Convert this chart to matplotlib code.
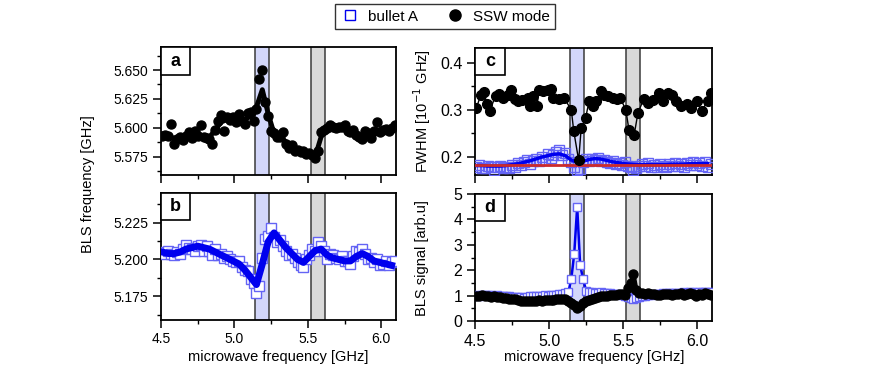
import numpy as np
import matplotlib
matplotlib.use('Agg')
import matplotlib.pyplot as plt
from matplotlib.lines import Line2D
from matplotlib.patches import Rectangle
from matplotlib.ticker import MultipleLocator, FormatStrFormatter

plt.rcParams['font.family'] = ['Liberation Sans', 'DejaVu Sans']

# --- data -------------------------------------------------------------
# panel a: SSW mode BLS frequency (GHz), 4.51 .. 6.09 step 0.02
a_ssw = [5.593, 5.594, 5.593, 5.603, 5.586, 5.590, 5.592, 5.589, 5.593, 5.596,
         5.591, 5.597, 5.593, 5.602, 5.592, 5.591, 5.590, 5.586, 5.598, 5.606,
         5.611, 5.597, 5.609, 5.607, 5.609, 5.605, 5.612, 5.606, 5.603, 5.613,
         5.614, 5.606, 5.616, 5.642, 5.650, 5.622, 5.610, 5.597, 5.595, 5.592,
         5.592, 5.596, 5.586, 5.582, 5.585, 5.580, 5.581, 5.579, 5.580, 5.577,
         5.578, 5.576, 5.574, 5.580, 5.596, 5.598, 5.600, 5.602, 5.601, 5.600,
         5.601, 5.601, 5.602, 5.597, 5.596, 5.598, 5.594, 5.592, 5.590, 5.597,
         5.595, 5.591, 5.597, 5.605, 5.596, 5.598, 5.599, 5.597, 5.600, 5.602]
# smoothed line, 4.51 .. 6.07 step 0.04
a_fit = [5.593, 5.592, 5.591, 5.591, 5.592, 5.593, 5.594, 5.593, 5.592, 5.598,
         5.605, 5.607, 5.608, 5.608, 5.607, 5.610, 5.618, 5.633, 5.612, 5.595,
         5.592, 5.588, 5.583, 5.580, 5.579, 5.577, 5.575, 5.592, 5.600, 5.601,
         5.601, 5.600, 5.597, 5.595, 5.593, 5.595, 5.597, 5.598, 5.598, 5.600]

# panel b: bullet A BLS frequency
b_bullet = [5.205, 5.204, 5.206, 5.204, 5.203, 5.205, 5.204, 5.207, 5.210, 5.208,
            5.207, 5.206, 5.209, 5.210, 5.206, 5.209, 5.206, 5.203, 5.207, 5.203,
            5.204, 5.201, 5.202, 5.200, 5.199, 5.198, 5.199, 5.195, 5.193, 5.192,
            5.187, 5.184, 5.177, 5.182, 5.201, 5.214, 5.216, 5.221, 5.215, 5.212,
            5.213, 5.209, 5.206, 5.203, 5.204, 5.201, 5.198, 5.196, 5.195, 5.200,
            5.203, 5.207, 5.206, 5.212, 5.209, 5.206, 5.200, 5.204, 5.203, 5.201,
            5.200, 5.202, 5.199, 5.199, 5.197, 5.202, 5.206, 5.205, 5.207, 5.204,
            5.200, 5.201, 5.198, 5.200, 5.196, 5.197, 5.199, 5.196, 5.198, 5.199]
b_fit = [5.205, 5.204, 5.204, 5.205, 5.207, 5.208, 5.209, 5.208, 5.207, 5.205,
         5.203, 5.201, 5.199, 5.197, 5.193, 5.188, 5.183, 5.197, 5.212, 5.218,
         5.213, 5.208, 5.204, 5.200, 5.198, 5.202, 5.206, 5.207, 5.203, 5.201,
         5.200, 5.199, 5.199, 5.202, 5.204, 5.202, 5.199, 5.198, 5.197, 5.196]

# panel c: FWHM (10^-1 GHz)
c_ssw_f = [4.51, 4.54, 4.56, 4.58, 4.60, 4.64, 4.66, 4.69, 4.72, 4.74,
           4.77, 4.79, 4.82, 4.86, 4.87, 4.89, 4.92, 4.93, 4.96, 4.99,
           5.01, 5.03, 5.07, 5.10, 5.15, 5.167, 5.20, 5.217, 5.247, 5.27,
           5.30, 5.32, 5.35, 5.37, 5.40, 5.43, 5.46, 5.48, 5.518, 5.54,
           5.575, 5.60, 5.64, 5.67, 5.70, 5.74, 5.77, 5.80, 5.83, 5.86,
           5.89, 5.93, 5.96, 6.00, 6.03, 6.07, 6.09]
c_ssw = [0.304, 0.332, 0.337, 0.311, 0.298, 0.330, 0.333, 0.325, 0.332, 0.341,
         0.323, 0.318, 0.320, 0.325, 0.307, 0.328, 0.307, 0.342, 0.339, 0.341,
         0.343, 0.325, 0.322, 0.325, 0.300, 0.254, 0.192, 0.261, 0.282, 0.318,
         0.308, 0.318, 0.339, 0.332, 0.330, 0.325, 0.323, 0.325, 0.300, 0.256,
         0.247, 0.293, 0.323, 0.314, 0.321, 0.335, 0.318, 0.335, 0.332, 0.318,
         0.307, 0.311, 0.304, 0.318, 0.297, 0.318, 0.335]
c_bullet = [0.178, 0.183, 0.176, 0.175, 0.181, 0.178, 0.172, 0.177, 0.180, 0.175,
            0.178, 0.176, 0.182, 0.179, 0.186, 0.183, 0.188, 0.193, 0.185, 0.191,
            0.196, 0.190, 0.199, 0.193, 0.205, 0.198, 0.203, 0.210, 0.215, 0.203,
            0.208, 0.196, 0.188, 0.177, 0.172, 0.174, 0.188, 0.194, 0.190, 0.196,
            0.193, 0.198, 0.191, 0.193, 0.189, 0.187, 0.190, 0.184, 0.186, 0.183,
            0.188, 0.180, 0.178, 0.172, 0.176, 0.180, 0.184, 0.181, 0.187, 0.179,
            0.183, 0.178, 0.185, 0.181, 0.178, 0.184, 0.180, 0.187, 0.181, 0.185,
            0.179, 0.186, 0.182, 0.189, 0.183, 0.187, 0.181, 0.188, 0.179, 0.184]
c_fit = [0.181, 0.181, 0.180, 0.180, 0.180, 0.181, 0.183, 0.185, 0.188, 0.191,
         0.195, 0.199, 0.202, 0.205, 0.206, 0.202, 0.193, 0.188, 0.190, 0.194,
         0.196, 0.195, 0.192, 0.189, 0.187, 0.185, 0.184, 0.183, 0.183, 0.183,
         0.183, 0.183, 0.183, 0.184, 0.184, 0.184, 0.185, 0.185, 0.185, 0.185]
c_ref = 0.182

# panel d: BLS signal (arb. u.)
d_bullet = [1.02, 1.00, 1.04, 1.01, 1.03, 1.02, 1.00, 1.01, 0.99, 1.00,
            0.98, 0.97, 0.95, 0.96, 0.94, 0.93, 0.92, 0.95, 0.97, 0.99,
            1.00, 0.99, 1.00, 1.01, 1.00, 1.02, 1.01, 1.03, 1.05, 1.08,
            1.12, 1.13, 1.65, 2.65, 4.50, 2.20, 1.65, 1.20, 1.15, 1.13,
            1.12, 1.12, 1.13, 1.12, 1.11, 1.10, 1.08, 1.06, 1.05, 1.02,
            0.98, 0.95, 0.92, 0.88, 0.90, 0.94, 0.98, 1.00, 1.02, 1.03,
            1.05, 1.06, 1.08, 1.10, 1.09, 1.10, 1.11, 1.12, 1.11, 1.12,
            1.13, 1.12, 1.14, 1.13, 1.12, 1.14, 1.13, 1.15, 1.14, 1.13]
d_ssw = [1.00, 0.98, 1.02, 0.97, 1.00, 0.96, 0.97, 0.95, 0.93, 0.92,
         0.90, 0.88, 0.87, 0.85, 0.82, 0.80, 0.79, 0.77, 0.78, 0.80,
         0.79, 0.81, 0.80, 0.82, 0.82, 0.84, 0.83, 0.86, 0.85, 0.87,
         0.86, 0.80, 0.72, 0.62, 0.52, 0.60, 0.70, 0.78, 0.84, 0.88,
         0.92, 0.95, 0.97, 0.99, 1.00, 1.02, 1.03, 1.03, 1.05, 1.06,
         1.04, 1.30, 1.50, 1.85, 1.22, 1.12, 1.10, 1.08, 1.12, 1.06,
         1.05, 1.03, 1.04, 1.05, 1.06, 1.08, 1.02, 1.05, 1.07, 1.10,
         1.03, 1.05, 1.11, 1.08, 0.98, 1.06, 1.04, 1.12, 1.06, 1.02]

band_blue = (5.14, 5.235)
band_gray = (5.52, 5.615)

grid = lambda ys: np.linspace(4.51, 6.09, len(ys))
fitgrid = lambda ys: np.linspace(4.51, 6.07, len(ys))

BLUE = '#0000ee'
SQ_EDGE = '#6464f5'

fig = plt.figure(figsize=(8.72, 3.91), dpi=100)
ax_a = fig.add_axes([0.1846, 0.5524, 0.2695, 0.3274])
ax_b = fig.add_axes([0.1846, 0.1816, 0.2695, 0.3248])
ax_c = fig.add_axes([0.5447, 0.5524, 0.2718, 0.3248])
ax_d = fig.add_axes([0.5447, 0.1790, 0.2718, 0.3248])


def style(ax, label, fs):
    ax.axvspan(*band_blue, color='#d3d7fa', zorder=0, lw=0)
    ax.axvspan(*band_gray, color='#d9d9d9', zorder=0, lw=0)
    for xv in band_blue + band_gray:
        ax.axvline(xv, color='#3a3a3a', lw=1.1, zorder=1)
    ax.set_xlim(4.5, 6.1)
    ax.xaxis.set_major_locator(MultipleLocator(0.5))
    ax.xaxis.set_minor_locator(MultipleLocator(0.25))
    ax.tick_params(which='major', direction='out', length=5.5, width=1.1, labelsize=fs)
    ax.tick_params(which='minor', direction='out', length=3, width=1.0)
    for s in ax.spines.values():
        s.set_linewidth(1.3)
    ax.add_patch(Rectangle((0, 0.785), 0.125, 0.215, transform=ax.transAxes,
                           fc='white', ec='black', lw=1.2, zorder=5, clip_on=False))
    ax.text(0.0625, 0.89, label, transform=ax.transAxes, ha='center', va='center',
            fontsize=13, fontweight='bold', zorder=6)


# a
style(ax_a, 'a', 10)
ax_a.plot(grid(a_ssw), a_ssw, 'o', color='black', ms=6.5, zorder=3)
ax_a.plot(fitgrid(a_fit), a_fit, '-', color='black', lw=3.5, zorder=4)
ax_a.set_ylim(5.559, 5.670)
ax_a.yaxis.set_major_locator(MultipleLocator(0.025))
ax_a.yaxis.set_minor_locator(MultipleLocator(0.0125))
ax_a.yaxis.set_major_formatter(FormatStrFormatter('%.3f'))
ax_a.tick_params(labelbottom=False)

# b
style(ax_b, 'b', 10)
ax_b.plot(grid(b_bullet), b_bullet, 's', mfc='white', mec=SQ_EDGE, mew=1.0, ms=7, zorder=3)
ax_b.plot(fitgrid(b_fit), b_fit, '-', color=BLUE, lw=5, zorder=4)
ax_b.set_ylim(5.159, 5.245)
ax_b.yaxis.set_major_locator(MultipleLocator(0.025))
ax_b.yaxis.set_minor_locator(MultipleLocator(0.0125))
ax_b.yaxis.set_major_formatter(FormatStrFormatter('%.3f'))
ax_b.set_xticks([4.5, 5.0, 5.5, 6.0])
ax_b.set_xticklabels(['4.5', '5.0', '5.5', '6.0'])

# c
style(ax_c, 'c', 11.5)
ax_c.plot(grid(c_bullet), c_bullet, 's', mfc='none', mec=SQ_EDGE, mew=1.0, ms=7, zorder=3)
ax_c.plot(fitgrid(c_fit), c_fit, '-', color=BLUE, lw=2.5, zorder=4)
ax_c.axhline(c_ref, color='#cc2b2b', lw=2, zorder=4)
ax_c.plot(c_ssw_f, c_ssw, 'o-', color='black', ms=7, lw=1.0, zorder=5)
ax_c.set_ylim(0.161, 0.431)
ax_c.yaxis.set_major_locator(MultipleLocator(0.1))
ax_c.yaxis.set_minor_locator(MultipleLocator(0.05))
ax_c.yaxis.set_major_formatter(FormatStrFormatter('%.1f'))
ax_c.tick_params(labelbottom=False)

# d
style(ax_d, 'd', 11.5)
ax_d.plot(grid(d_bullet), d_bullet, '-', color=BLUE, lw=1.8, zorder=3)
ax_d.plot(grid(d_bullet), d_bullet, 's', mfc='white', mec=SQ_EDGE, mew=1.0, ms=6, zorder=3)
ax_d.plot(grid(d_ssw), d_ssw, 'o-', color='black', ms=6.5, lw=3, zorder=4)
ax_d.set_ylim(0, 5)
ax_d.yaxis.set_major_locator(MultipleLocator(1))
ax_d.yaxis.set_minor_locator(MultipleLocator(0.5))
ax_d.set_xticks([4.5, 5.0, 5.5, 6.0])
ax_d.set_xticklabels(['4.5', '5.0', '5.5', '6.0'])

# labels
fig.text(0.101, 0.53, 'BLS frequency [GHz]', rotation=90, ha='center', va='center', fontsize=10.5)
fig.text(0.484, 0.715, 'FWHM [10$^{-1}$ GHz]', rotation=90, ha='center', va='center', fontsize=10.5)
fig.text(0.484, 0.34, 'BLS signal [arb.u]', rotation=90, ha='center', va='center', fontsize=10.5)
fig.text(0.319, 0.088, 'microwave frequency [GHz]', ha='center', va='center', fontsize=10.5)
fig.text(0.681, 0.088, 'microwave frequency [GHz]', ha='center', va='center', fontsize=10.5)

handles = [Line2D([], [], ls='none', marker='s', mfc='white', mec=BLUE, ms=7, mew=1.0),
           Line2D([], [], ls='none', marker='o', color='black', ms=8)]
leg = fig.legend(handles, ['bullet A', 'SSW mode'], loc='center', bbox_to_anchor=(0.51, 0.957),
                 ncol=2, frameon=True, fancybox=False, edgecolor='black', fontsize=11,
                 handletextpad=0.5, columnspacing=1.8, borderpad=0.35, handlelength=1.3)
leg.get_frame().set_linewidth(1.0)

fig.savefig('out.png', dpi=100)
